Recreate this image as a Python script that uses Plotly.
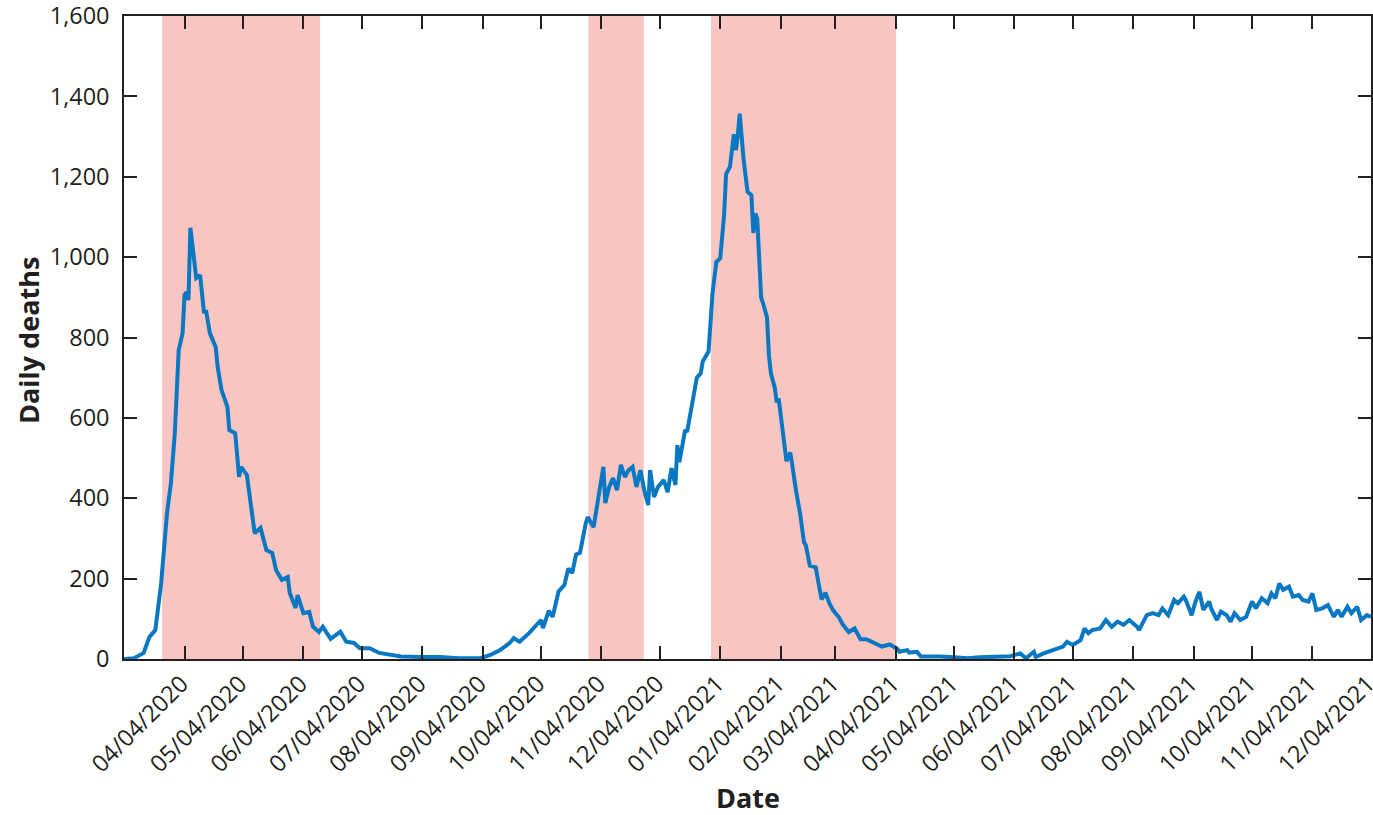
import pandas as pd
import plotly.graph_objects as go

START = "2020-03-04"
END = "2021-12-04"

# Days since 2020-03-04 and daily deaths
day_offset = [0, 5, 10, 13, 16, 19, 22, 24, 26, 28, 30, 31, 32, 33, 34, 36, 37, 39, 41, 42, 44, 47, 48, 50, 53, 54,
              57, 59, 60, 63, 65, 67, 70, 73, 76, 78, 81, 84, 85, 88, 89, 92, 95, 97, 100, 102, 106, 111, 114, 118,
              121, 126, 131, 138, 142, 152, 162, 172, 183, 188, 193, 198, 200, 203, 208, 214, 215, 218, 220, 223,
              226, 228, 230, 232, 234, 237, 238, 241, 243, 244, 246, 247, 249, 251, 253, 255, 257, 259, 261, 263,
              265, 267, 269, 270, 272, 274, 277, 279, 281, 283, 284, 285, 288, 289, 292, 294, 296, 297, 300, 302,
              304, 306, 308, 309, 311, 313, 314, 315, 316, 317, 318, 320, 322, 323, 324, 325, 327, 328, 330, 331,
              332, 334, 335, 336, 337, 338, 340, 342, 344, 345, 347, 349, 350, 352, 355, 356, 358, 360, 362, 364,
              367, 369, 372, 375, 378, 381, 385, 389, 393, 397, 398, 402, 403, 407, 409, 414, 419, 426, 433, 439,
              448, 455, 460, 463, 467, 468, 472, 477, 482, 484, 487, 491, 493, 495, 497, 501, 504, 507, 510, 513,
              516, 520, 521, 525, 528, 531, 533, 536, 539, 541, 544, 545, 548, 550, 552, 554, 557, 558, 561, 563,
              566, 568, 570, 573, 576, 579, 581, 584, 587, 589, 591, 593, 595, 598, 600, 603, 605, 608, 610, 612,
              615, 618, 621, 623, 625, 628, 630, 633, 635, 638, 640]

daily_deaths = [0, 2, 15, 55, 72, 189, 363, 438, 562, 769, 811, 906, 913, 893, 1073, 976, 948, 955, 861, 868, 811,
                776, 727, 669, 627, 570, 562, 453, 478, 458, 378, 313, 326, 271, 264, 221, 197, 204, 164, 127, 159,
                114, 117, 80, 67, 80, 50, 68, 43, 40, 27, 27, 15, 10, 6, 5, 5, 2, 2, 10, 22, 40, 52, 43, 65, 97, 77,
                120, 105, 168, 184, 225, 214, 260, 264, 338, 353, 328, 388, 403, 478, 388, 428, 450, 420, 483, 453,
                470, 478, 428, 470, 420, 383, 470, 403, 428, 445, 415, 475, 433, 532, 490, 570, 565, 644, 700, 711,
                740, 765, 908, 988, 997, 1105, 1207, 1225, 1306, 1266, 1301, 1357, 1293, 1243, 1163, 1154, 1060,
                1109, 1096, 899, 885, 850, 756, 711, 675, 639, 648, 604, 568, 492, 514, 443, 416, 362, 291, 282, 232,
                228, 201, 148, 165, 139, 121, 103, 85, 67, 76, 49, 49, 40, 31, 36, 25, 18, 22, 16, 18, 6, 7, 6, 4, 2,
                4, 6, 7, 14, 2, 18, 5, 14, 22, 31, 43, 35, 47, 76, 64, 72, 76, 97, 80, 93, 85, 97, 80, 72, 109, 114,
                109, 126, 109, 147, 139, 155, 147, 109, 143, 167, 122, 143, 126, 97, 118, 109, 93, 114, 97, 105, 143,
                126, 151, 139, 163, 151, 188, 172, 180, 155, 159, 147, 143, 163, 122, 126, 134, 105, 122, 105, 130,
                114, 130, 97, 109, 105]

# Shaded (lockdown) periods, in days since 2020-03-04
shade_start_day = [19.5, 238.3, 301.3]
shade_end_day = [100.6, 266.8, 396.3]

# Tick labels: the 4th of each month
tick_dates = pd.date_range(START, END, freq="MS") + pd.Timedelta(days=3)
tick_labels = [d.strftime("%m/%d/%Y") for d in tick_dates]
y_ticks = [0, 200, 400, 600, 800, 1000, 1200, 1400, 1600]

start = pd.Timestamp(START)
end = pd.Timestamp(END)
dates = [start + pd.Timedelta(days=d) for d in day_offset]

fig = go.Figure()

for s, e in zip(shade_start_day, shade_end_day):
    fig.add_vrect(x0=start + pd.Timedelta(days=s), x1=start + pd.Timedelta(days=e),
                  fillcolor="#f8c6c2", opacity=1, line_width=0, layer="below")

fig.add_trace(go.Scatter(x=dates, y=daily_deaths, mode="lines",
                         line=dict(color="#0a77c2", width=4), showlegend=False))

font_family = "Open Sans"
axis_color = "#231f20"
tick_size = 23.5
title_size = 27

fig.update_layout(
    width=1373, height=815, autosize=False,
    margin=dict(l=124, r=2, t=16, b=156, autoexpand=False),
    plot_bgcolor="white", paper_bgcolor="white",
    font=dict(family=font_family, color=axis_color, size=tick_size),
)

fig.update_xaxes(
    type="date", automargin=False,
    range=[start - pd.Timedelta(hours=2), end + pd.Timedelta(hours=2)],
    tickvals=list(tick_dates), ticktext=tick_labels, tickangle=-45,
    ticks="inside", ticklen=13, tickwidth=1.5, tickcolor=axis_color,
    showline=True, linecolor=axis_color, linewidth=1.5, mirror="ticks",
    showgrid=False, zeroline=False, ticklabeloverflow="allow", ticklabelshift=-3,
    tickfont=dict(size=tick_size, family=font_family, color=axis_color),
)

fig.update_yaxes(
    automargin=False,
    range=[-0.05, 1600.05],
    tickvals=y_ticks, tickformat=",",
    ticks="inside", ticklen=13, tickwidth=1.5, tickcolor=axis_color,
    showline=True, linecolor=axis_color, linewidth=1.5, mirror="ticks",
    showgrid=False, zeroline=False, ticklabeloverflow="allow",
    tickfont=dict(size=tick_size, family=font_family, color=axis_color),
    ticklabelstandoff=8,
)

fig.add_annotation(text="<b>Date</b>", xref="paper", yref="paper", x=0.5, y=-0.216,
                   xanchor="center", yanchor="middle", showarrow=False,
                   font=dict(size=title_size, family=font_family, color=axis_color))
fig.add_annotation(text="<b>Daily deaths</b>", xref="paper", yref="paper", x=-0.077, y=0.496,
                   xanchor="center", yanchor="middle", textangle=-90, showarrow=False,
                   font=dict(size=title_size, family=font_family, color=axis_color))

fig.write_html(
    "out.html",
    config={"displayModeBar": False, "responsive": False},
    post_script=("document.documentElement.style.overflow='hidden';"
                 "document.body.style.overflow='hidden';"
                 "document.body.style.margin='0';document.body.style.padding='0';"),
)
